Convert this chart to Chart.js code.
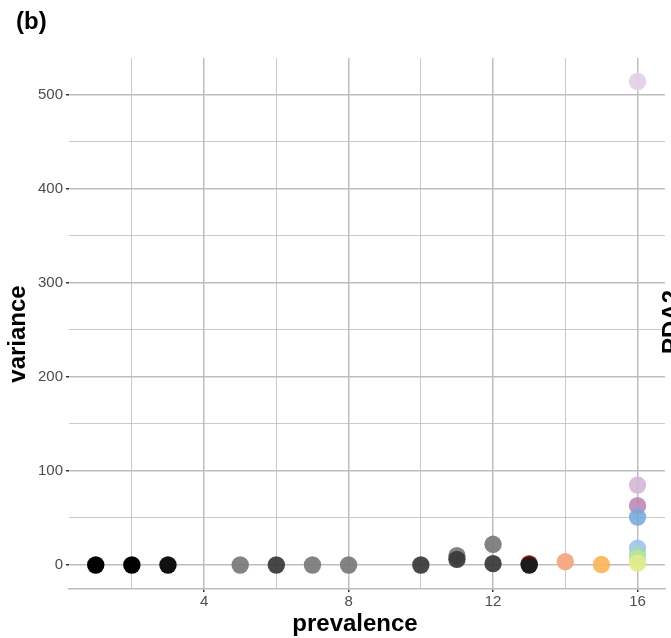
<!DOCTYPE html>
<html>
<head>
<meta charset="utf-8">
<script src="https://cdn.jsdelivr.net/npm/chart.js@4/dist/chart.umd.min.js"></script>
<style>
  body { margin: 0; background: #fff; }
  #wrap { width: 671px; height: 638px; }
</style>
</head>
<body>
<div id="wrap"><canvas id="chart" width="671" height="638"></canvas></div>
<script>
// values
var prevalence = [1, 2, 3, 5, 6, 7, 8, 10, 11, 11, 12, 12, 13, 13, 14, 15, 16, 16, 16, 16, 16, 16, 16, 16]
var variance = [0, 0, 0, 0, 0, 0, 0, 0, 10, 6, 22, 1.5, 1.5, 0, 3.5, 0.5, 514, 85, 63, 51, 18, 11, 7, 2]
var group = ['k', 'k', 'k1', 'g', 'dg', 'g', 'g', 'dg', 'g', 'dg', 'g', 'dg', 'red', 'k2', 'salmon', 'orange',
             'lilac', 'pink', 'mauve', 'blue', 'lblue', 'green', 'lgreen', 'yellow']
var xTicks = [2, 4, 6, 8, 10, 12, 14, 16]
var yTicks = [0, 50, 100, 150, 200, 250, 300, 350, 400, 450, 500]

var palette = {
    k: '#000000', k1: '#111111', k2: '#1c1c1c',
    g: 'rgba(120,120,120,0.92)', dg: 'rgba(55,55,55,0.92)',
    red: '#d6332a', salmon: 'rgba(244,165,130,0.95)', orange: 'rgba(252,180,90,0.92)',
    lilac: 'rgba(226,210,232,0.95)', pink: 'rgba(214,184,214,0.92)', mauve: 'rgba(190,136,184,0.9)',
    blue: 'rgba(120,170,222,0.88)', lblue: 'rgba(160,196,238,0.9)', green: 'rgba(166,218,166,0.85)',
    lgreen: 'rgba(190,228,160,0.85)', yellow: 'rgba(226,236,140,0.9)'
}

var gridGray = '#bdbdbd'
var textGray = '#4d4d4d'
var font = "'Liberation Sans', Arial, sans-serif"

var points = prevalence.map(function(p, i) { return {x: p, y: variance[i]} })

var textPlugin = {
    id: 'extraText',
    afterDraw: function(chart) {
        var ctx = chart.ctx
        ctx.save()
        ctx.fillStyle = '#000'
        ctx.font = 'bold 24px ' + font
        ctx.textAlign = 'left'
        ctx.textBaseline = 'alphabetic'
        ctx.fillText('(b)', 16, 29)

        ctx.textAlign = 'center'
        ctx.fillText('prevalence', 355, 631)

        ctx.save()
        ctx.translate(25, 334)
        ctx.rotate(-Math.PI / 2)
        ctx.fillText('variance', 0, 0)
        ctx.restore()

        // legend title, cut off by the right edge
        ctx.save()
        ctx.translate(679, 322)
        ctx.rotate(-Math.PI / 2)
        ctx.fillText('PDA2', 0, 0)
        ctx.restore()
        ctx.restore()
    }
}

new Chart(document.getElementById('chart'), {
    type: 'scatter',
    data: {
        datasets: [{
            data: points,
            backgroundColor: group.map(function(g) { return palette[g] }),
            borderWidth: 0,
            pointRadius: 8.7,
            pointHoverRadius: 8.7
        }]
    },
    options: {
        responsive: false,
        animation: false,
        layout: { autoPadding: false, padding: { top: 58, right: 6, left: 0, bottom: 0 } },
        plugins: { legend: { display: false }, tooltip: { enabled: false } },
        scales: {
            x: {
                type: 'linear',
                min: 0.26,
                max: 16.76,
                afterBuildTicks: function(scale) { scale.ticks = xTicks.map(function(v) { return {value: v} }) },
                afterFit: function(scale) { scale.height = 49 },
                border: { display: true, color: gridGray, width: 1.5 },
                grid: {
                    color: gridGray,
                    lineWidth: function(c) { return c.tick && c.tick.value % 4 === 0 ? 1.5 : 0.8 },
                    tickColor: function(c) { return c.tick && c.tick.value % 4 === 0 ? '#333' : 'rgba(0,0,0,0)' },
                    tickLength: 3,
                    tickWidth: 1.5
                },
                ticks: {
                    autoSkip: false,
                    maxRotation: 0,
                    padding: 1,
                    color: textGray,
                    font: { family: font, size: 15 },
                    callback: function(v) { return v % 4 === 0 ? v : '' }
                }
            },
            y: {
                min: -25.5,
                max: 539,
                afterBuildTicks: function(scale) { scale.ticks = yTicks.map(function(v) { return {value: v} }) },
                afterFit: function(scale) { scale.width = 69 },
                border: { display: false },
                grid: {
                    color: gridGray,
                    lineWidth: function(c) { return c.tick && c.tick.value % 100 === 0 ? 1.5 : 0.8 },
                    tickColor: function(c) { return c.tick && c.tick.value % 100 === 0 ? '#333' : 'rgba(0,0,0,0)' },
                    tickLength: 3,
                    tickWidth: 1.5
                },
                ticks: {
                    autoSkip: false,
                    padding: 3,
                    color: textGray,
                    font: { family: font, size: 15 },
                    callback: function(v) { return v % 100 === 0 ? v : '' }
                }
            }
        }
    },
    plugins: [textPlugin]
})
</script>
</body>
</html>
